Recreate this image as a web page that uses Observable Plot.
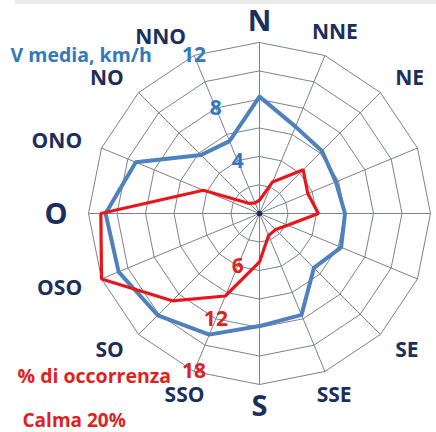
<!DOCTYPE html>
<html>
<head>
<meta charset="utf-8">
<script src="https://cdn.jsdelivr.net/npm/d3@7"></script>
<script src="https://cdn.jsdelivr.net/npm/@observablehq/plot@0.6"></script>
<style>
  html, body { margin: 0; padding: 0; background: #fff; }
  #wrap { position: relative; width: 436px; height: 432px; overflow: hidden; }
  #band { position: absolute; left: 15px; top: 0; width: 421px; height: 4px; background: #ebebeb; }
  #chart svg { display: block; }
</style>
</head>
<body>
<div id="wrap"><div id="chart"></div><div id="band"></div></div>
<script>
// ---- data ----
const directions = ["N","NNE","NE","ENE","E","ESE","SE","SSE","S","SSO","SO","OSO","O","ONO","NO","NNO"];
const speed      = [8.2, 6.6, 6.2, 5.8, 6.0, 6.2, 5.4, 7.7, 7.9, 9.2, 10.1, 10.7, 10.8, 9.4, 5.8, 5.5]; // V media, km/h
const occurrence = [1.4, 3.6, 6.5, 5.5, 6.2, 3.2, 2.4, 2.5, 5.1, 9.4, 13.0, 18.0, 16.7, 6.4, 1.5, 1.2]; // % di occorrenza
const speedTicks = [4, 8, 12];
const occurrenceTicks = [6, 12, 18];
const speedMax = 12;
const occurrenceMax = 18;
const ringCount = 6;
const hiddenLabels = ["ENE", "E", "ESE"]; // fall outside the cropped frame
const bigLabels = ["N", "O", "S"];
const speedLabel = "V media, km/h";
const occurrenceLabel = "% di occorrenza";
const calmLabel = "Calma 20%";

// ---- layout ----
const W = 436, H = 432;
const cx = 259, cy = 213, R = 171;
const navy = "#1b2f5e", blueLine = "#4f81bd", blueText = "#3478bd", redLine = "#e8161b", redText = "#dd2222";
const FONT = "'Open Sans', sans-serif";

const step = 360 / directions.length;
const ang = i => i * step * Math.PI / 180;
const polar = (i, r) => ({x: r * Math.sin(ang(i)), y: r * Math.cos(ang(i))});

const rings = [];
for (let k = 1; k <= ringCount; k++) {
  directions.forEach((d, i) => rings.push({ring: k, ...polar(i, k / ringCount)}));
}
const spokes = directions.map((d, i) => ({x1: 0, y1: 0, x2: polar(i, 1).x, y2: polar(i, 1).y}));

const speedPts = speed.map((v, i) => ({dir: directions[i], ...polar(i, v / speedMax)}));
const occPts = occurrence.map((v, i) => ({dir: directions[i], ...polar(i, v / occurrenceMax)}));

const iNNO = directions.indexOf("NNO"), iSSO = directions.indexOf("SSO");
const speedTickPts = speedTicks.map(t => ({t, ...polar(iNNO, t / speedMax)}));
const occTickPts = occurrenceTicks.map(t => ({t, ...polar(iSSO, t / occurrenceMax)}));

// direction labels
// side labels: anchored (start/end) on the spoke at a fixed radius
// near-vertical labels: centred on the spoke, box touching a circle
const ctx = document.createElement("canvas").getContext("2d");
const sideR = 192, vertR0 = 182; // px
const labelPts = directions.map((d, i) => {
  const size = bigLabels.includes(d) ? 29 : 21;
  const ux = Math.sin(ang(i)), uy = Math.cos(ang(i));
  let anchor, t;
  if (Math.abs(ux) > 0.5 || (ux < -0.3 && uy > 0)) {
    anchor = ux > 0 ? "start" : "end";
    t = sideR;
  } else {
    anchor = "middle";
    ctx.font = `bold ${size}px ${FONT}`;
    const a = ctx.measureText(d).width / 2, b = 0.72 * size / 2;
    let lo = 0, hi = 400;
    for (let k = 0; k < 50; k++) {
      const m = (lo + hi) / 2;
      const px = Math.max(Math.abs(m * ux) - a, 0), py = Math.max(Math.abs(m * uy) - b, 0);
      if (Math.hypot(px, py) < vertR0) lo = m; else hi = m;
    }
    t = lo;
  }
  return {d, size, anchor, x: t * ux / R, y: t * uy / R};
}).filter(p => !hiddenLabels.includes(p.d));

const labelMark = anchor => Plot.text(labelPts.filter(p => p.anchor === anchor), {
  x: "x", y: "y", text: "d", fill: navy, fontSize: "size", fontWeight: "bold",
  textAnchor: anchor, lineAnchor: "middle", dy: 1
});

const chart = Plot.plot({
  width: W, height: H,
  margin: 0,
  x: {domain: [-cx / R, (W - cx) / R], range: [0, W], axis: null},
  y: {domain: [-(H - cy) / R, cy / R], range: [H, 0], axis: null},
  style: {background: "transparent", fontFamily: FONT},
  marks: [
    Plot.line(rings, {x: "x", y: "y", z: "ring", curve: "linear-closed", stroke: "#7b8191", strokeWidth: 1}),
    Plot.link(spokes, {x1: "x1", y1: "y1", x2: "x2", y2: "y2", stroke: "#7b8191", strokeWidth: 1}),
    Plot.line(speedPts, {x: "x", y: "y", curve: "linear-closed", stroke: blueLine, strokeWidth: 4, strokeLinejoin: "round"}),
    Plot.line(occPts, {x: "x", y: "y", curve: "linear-closed", stroke: redLine, strokeWidth: 3.2, strokeLinejoin: "miter"}),
    Plot.dot([{x: 0, y: 0}], {x: "x", y: "y", r: 2.8, fill: navy, stroke: null}),
    Plot.text(speedTickPts, {x: "x", y: "y", text: d => String(d.t), fill: blueText, fontSize: 21, fontWeight: "bold", textAnchor: "middle", lineAnchor: "middle"}),
    Plot.text(occTickPts, {x: "x", y: "y", text: d => String(d.t), fill: redText, fontSize: 21, fontWeight: "bold", textAnchor: "middle", lineAnchor: "middle"}),
    labelMark("start"),
    labelMark("end"),
    labelMark("middle"),
    Plot.text([speedLabel], {frameAnchor: "top-left", dx: 10, dy: 55, fill: blueText, fontSize: 19.5, fontWeight: "bold", textAnchor: "start", lineAnchor: "middle"}),
    Plot.text([occurrenceLabel], {frameAnchor: "top-left", dx: 17, dy: 376, fill: redText, fontSize: 19.5, fontWeight: "bold", textAnchor: "start", lineAnchor: "middle"}),
    Plot.text([calmLabel], {frameAnchor: "top-left", dx: 22, dy: 420, fill: redText, fontSize: 19, fontWeight: "bold", textAnchor: "start", lineAnchor: "middle"})
  ]
});
document.getElementById("chart").appendChild(chart);
</script>
</body>
</html>
